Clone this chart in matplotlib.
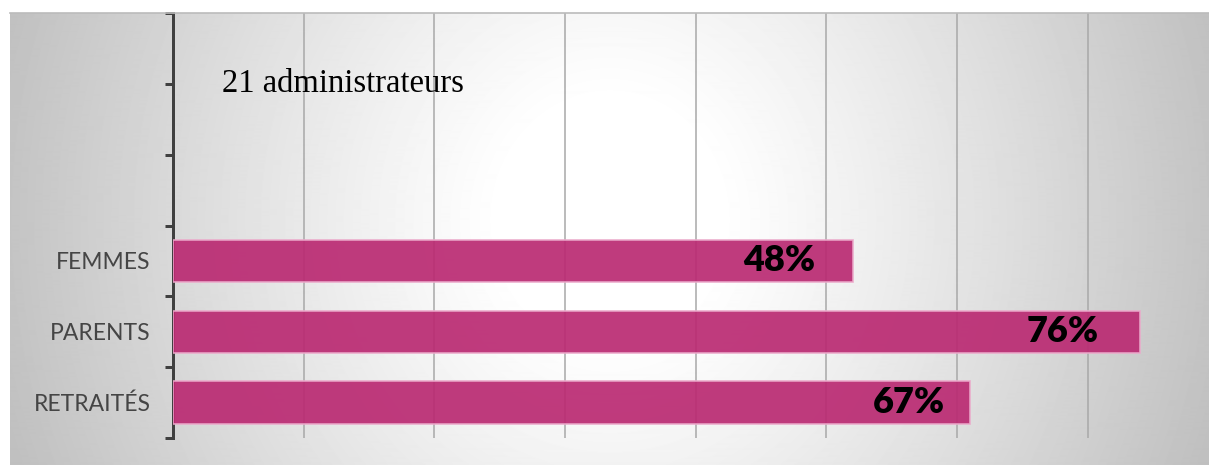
import numpy as np
import matplotlib
matplotlib.use("Agg")
import matplotlib.pyplot as plt

# ---- data ----
categories = ["", "", "", "FEMMES", "PARENTS", "RETRAITÉS"]
bar_values = [None, None, None, 52, 74, 61]          # drawn bar lengths (axis units)
bar_labels = ["", "", "", "48%", "76%", "67%"]
note_text = "21 administrateurs"

W, H = 1209, 465
fig = plt.figure(figsize=(W / 100, H / 100), dpi=100)
fig.patch.set_facecolor("white")

# ---- gradient background panel ----
bx0, by_top = 10, 13
bg = fig.add_axes([bx0 / W, 0, (W - bx0) / W, (H - by_top) / H])
gx, gy = np.meshgrid(np.arange(bx0, W), np.arange(by_top, H))
cx, cy, rx, ry = 610, 220, 600, 650
d = np.sqrt(((gx - cx) / rx) ** 2 + ((gy - cy) / ry) ** 2)
t = np.clip((d - 0.18) / 0.88, 0, 1)
v = 1 - 0.25 * t ** 1.1
bg.imshow(v, cmap="gray", vmin=0, vmax=1, aspect="auto", interpolation="bilinear")
bg.set_axis_off()
fig.add_artist(plt.Line2D([bx0 / W, 1], [(H - by_top) / H] * 2, color="#BBBBBB", lw=1.2,
                          transform=fig.transFigure))

# ---- main axes ----
L, R, T, B = 173, 1209, 13, 438
ax = fig.add_axes([L / W, (H - B) / H, (R - L) / W, (B - T) / H])
ax.set_facecolor("none")
px_per_unit = 130.7 / 10
ax.set_xlim(0, (R - L) / px_per_unit)
n = len(categories)
ax.set_ylim(n - 0.5, -0.5)

ypos = np.arange(n)
bar_color = "#BA2A72"
for y, val in zip(ypos, bar_values):
    if val is None:
        continue
    ax.barh(y, val, height=0.6, color=bar_color, alpha=0.92, edgecolor="#EBA9CA",
            linewidth=1.2, zorder=3)
offsets = {3: -37, 4: -41, 5: -25}
for y, val, lab in zip(ypos, bar_values, bar_labels):
    if val is None:
        continue
    ax.annotate(lab, xy=(val, y), xytext=(offsets[y] * 0.72, 0), textcoords="offset points",
                ha="right", va="center", fontsize=26, fontweight="heavy", family="Lato",
                color="black", zorder=5)

# grid
ax.set_xticks(np.arange(10, 80, 10))
ax.xaxis.grid(True, color="#A8A8A8", lw=1.1, zorder=0)
ax.tick_params(axis="x", length=0, labelbottom=False)

# y ticks: marks at boundaries, labels at centers
ax.set_yticks(np.arange(-0.5, n, 1.0))
ax.set_yticklabels([])
ax.tick_params(axis="y", which="major", direction="out", length=8 * 0.72, width=3 * 0.72,
               color="#404040")
ax.set_yticks(ypos, minor=True)
ax.set_yticklabels(categories, minor=True, family="Lato", fontsize=16.5, color="#454545")
ax.tick_params(axis="y", which="minor", length=0, pad=16)

for s in ["top", "right", "bottom"]:
    ax.spines[s].set_visible(False)
ax.spines["left"].set_color("#404040")
ax.spines["left"].set_linewidth(3 * 0.72)

ax.text((221.7 - L) / (R - L), (B - 91.7) / (B - T), note_text, transform=ax.transAxes,
        ha="left", va="baseline", fontsize=23.5, family="Liberation Serif", color="black")

fig.savefig("out.png", dpi=100)
